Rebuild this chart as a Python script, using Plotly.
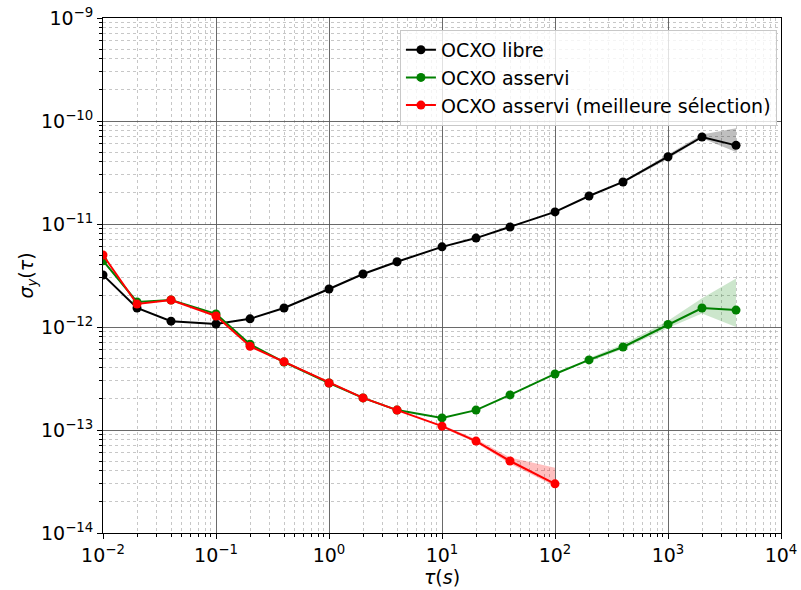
import plotly.graph_objects as go

tau = [0.01, 0.02, 0.04, 0.1, 0.2, 0.4, 1, 2, 4, 10, 20, 40, 100, 200, 400, 1000, 2000, 4000]

libre = [3.2e-12, 1.53e-12, 1.14e-12, 1.07e-12, 1.2e-12, 1.53e-12, 2.34e-12, 3.27e-12, 4.3e-12,
         6.0e-12, 7.3e-12, 9.35e-12, 1.31e-11, 1.87e-11, 2.56e-11, 4.5e-11, 7.0e-11, 5.8e-11]
asservi = [4.4e-12, 1.75e-12, 1.83e-12, 1.34e-12, 6.8e-13, 4.57e-13, 2.86e-13, 2.05e-13, 1.56e-13,
           1.31e-13, 1.56e-13, 2.19e-13, 3.5e-13, 4.79e-13, 6.4e-13, 1.06e-12, 1.53e-12, 1.46e-12]
tau_best = [0.01, 0.02, 0.04, 0.1, 0.2, 0.4, 1, 2, 4, 10, 20, 40, 100]
best = [5.0e-12, 1.67e-12, 1.83e-12, 1.28e-12, 6.5e-13, 4.6e-13, 2.86e-13, 2.05e-13, 1.56e-13,
        1.09e-13, 7.8e-14, 5.0e-14, 3.0e-14]

# confidence bands (only visible parts)
band_libre_tau = [400, 1000, 2000, 4000]
band_libre_lo = [2.5e-11, 4.3e-11, 6.8e-11, 5.0e-11]
band_libre_hi = [2.62e-11, 4.7e-11, 7.4e-11, 8.5e-11]
band_ass_tau = [200, 400, 1000, 2000, 4000]
band_ass_lo = [4.6e-13, 6.1e-13, 9.8e-13, 1.35e-12, 1.0e-12]
band_ass_hi = [5.0e-13, 6.8e-13, 1.15e-12, 1.9e-12, 2.95e-12]
band_best_tau = [10, 20, 40, 100]
band_best_lo = [1.06e-13, 7.5e-14, 4.7e-14, 2.85e-14]
band_best_hi = [1.12e-13, 8.2e-14, 5.4e-14, 4.3e-14]

names = ["OCXO libre", "OCXO asservi", "OCXO asservi (meilleure sélection)"]
colors = ["black", "green", "red"]
fills = ["rgba(0,0,0,0.25)", "rgba(0,128,0,0.2)", "rgba(255,0,0,0.25)"]

x_exps = [-2, -1, 0, 1, 2, 3, 4]
y_exps = [-14, -13, -12, -11, -10, -9]


def sup_label(e):
    return "10<sup>" + str(e).replace("-", "−") + "</sup>"


def minor_vals(exps):
    return [k * 10.0 ** e for e in exps[:-1] for k in range(2, 10)]


fig = go.Figure()

bands = [(band_libre_tau, band_libre_lo, band_libre_hi),
         (band_ass_tau, band_ass_lo, band_ass_hi),
         (band_best_tau, band_best_lo, band_best_hi)]
for (bt, lo, hi), fc in zip(bands, fills):
    fig.add_trace(go.Scatter(x=bt + bt[::-1], y=hi + lo[::-1], fill="toself",
                             fillcolor=fc, line=dict(width=0), mode="lines",
                             showlegend=False, hoverinfo="skip"))

series = [(tau, libre), (tau, asservi), (tau_best, best)]
for (xs, ys), n, c in zip(series, names, colors):
    fig.add_trace(go.Scatter(x=xs, y=ys, name=n, mode="lines+markers",
                             line=dict(color=c, width=2),
                             marker=dict(color=c, size=9)))


def axis_style(exps):
    return dict(
        type="log", tickmode="array",
        tickvals=[10.0 ** e for e in exps], ticktext=[sup_label(e) for e in exps],
        showline=True, linecolor="black", linewidth=1, mirror=True,
        ticks="outside", ticklen=5, tickcolor="black", automargin=False,
        showgrid=True, gridcolor="rgba(90,90,90,0.9)", gridwidth=1,
        zeroline=False,
        tickfont=dict(family="DejaVu Sans", size=19, color="black"),
        minor=dict(tickmode="array", tickvals=minor_vals(exps), ticks="outside", ticklen=3,
                   tickcolor="black", showgrid=True,
                   gridcolor="rgba(175,175,175,0.7)", griddash="dot", gridwidth=1),
    )


fig.update_xaxes(range=[-2, 4],
                 title=dict(text="<i>τ</i>(<i>s</i>)", font=dict(family="DejaVu Sans", size=19), standoff=4),
                 **axis_style(x_exps))
fig.update_yaxes(range=[-14, -9],
                 title=dict(text="<i>σ<sub>y</sub></i>(<i>τ</i>)", font=dict(family="DejaVu Sans", size=19), standoff=2),
                 **axis_style(y_exps))

fig.update_layout(
    width=801, height=590,
    margin=dict(l=103, r=20, t=18, b=57),
    plot_bgcolor="white", paper_bgcolor="white",
    font=dict(family="DejaVu Sans", size=19, color="black"),
    legend=dict(x=0.994, y=0.977, xanchor="right", yanchor="top",
                bgcolor="rgba(255,255,255,0.8)", bordercolor="rgba(200,200,200,1)",
                borderwidth=1, font=dict(size=19), tracegroupgap=0),
)

fig.write_html("out.html", config={"displayModeBar": False},
               post_script="document.body.style.margin='0px';")
